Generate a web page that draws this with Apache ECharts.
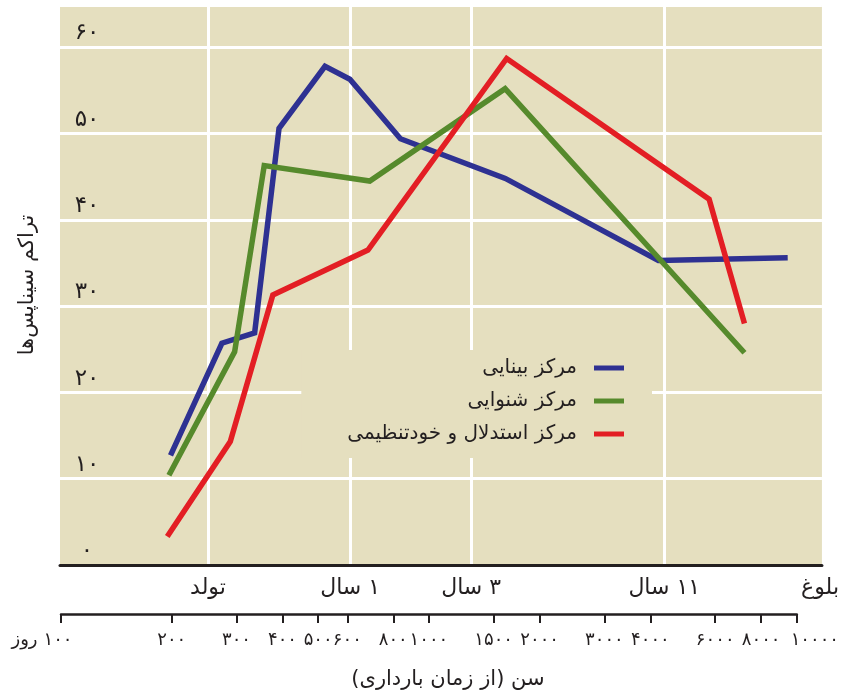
<!DOCTYPE html>
<html dir="rtl">
<head>
<meta charset="utf-8">
<script src="https://cdn.jsdelivr.net/npm/echarts@6/dist/echarts.min.js"></script>
<style>html,body{margin:0;padding:0;background:#fff}#c{width:842px;height:696px}</style>
</head>
<body>
<div id="c"></div>
<script>
// ---- data ----
const seriesNames = ['مرکز بینایی', 'مرکز شنوایی', 'مرکز استدلال و خودتنظیمی'];
const visualDays = [200, 276, 339, 395, 527, 616, 846, 1633, 4265, 9600];
const visualVals = [11.1, 24.1, 25.3, 49.0, 56.2, 54.7, 47.8, 43.2, 33.7, 34.0];
const auditoryDays = [198, 299, 360, 698, 1631, 7320];
const auditoryVals = [8.8, 23.1, 44.7, 42.9, 53.6, 23.0];
const prefrontalDays = [196, 291, 380, 690, 1647, 5865, 7320];
const prefrontalVals = [1.7, 12.7, 29.7, 34.9, 57.1, 40.8, 26.4];
const tickDays = [100, 200, 300, 400, 500, 600, 800, 1000, 1500, 2000, 3000, 4000, 6000, 8000];
const lastTickDays = [10000];
const yLabels = [0, 10, 20, 30, 40, 50, 60];
const milestoneDays = [253, 617, 1318, 4426, 11760];
const milestoneNames = ['تولد', '۱ سال', '۳ سال', '۱۱ سال', 'بلوغ'];
const yTitle = 'تراکم سیناپس‌ها';
const xTitle = 'سن (از زمان بارداری)';
const dayWord = 'روز';

// ---- helpers ----
const FONT = 'DejaVu Sans';
const INK = '#231f20';
const BG = '#e5dfbf';
const COLORS = ['#2e3192', '#568a2c', '#e31e24'];
const fa = n => String(n).replace(/\d/g, d => '۰۱۲۳۴۵۶۷۸۹'[d]);
const lg = d => Math.log10(d);
const pts = (days, vals) => days.map((d, i) => [lg(d), vals[i]]);

const chart = echarts.init(document.getElementById('c'), null, {renderer: 'canvas'});
const mkSeries = (name, days, vals, color) => ({
  name, type: 'line', xAxisIndex: 0, yAxisIndex: 0,
  data: pts(days, vals), symbol: 'none', showSymbol: false, silent: true,
  lineStyle: {width: 5.5, color, join: 'miter', cap: 'butt'},
  itemStyle: {color}
});
const tickLabelStyle = {fontSize: 18, color: INK, fontFamily: FONT};

chart.setOption({
  animation: false,
  grid: [
    {left: 60, right: 16, top: 5, bottom: 131, show: true, backgroundColor: BG, borderWidth: 0},
    {left: 61, right: 44, top: 600, height: 14, show: false}
  ],
  xAxis: [
    {
      type: 'value', gridIndex: 0, min: 2, max: lg(11900),
      axisLine: {show: true, onZero: false, lineStyle: {color: INK, width: 3}},
      axisTick: {show: false, customValues: milestoneDays.slice(0, 4).map(d => lg(d))},
      splitLine: {show: true, lineStyle: {color: '#fff', width: 3}},
      axisLabel: {
        customValues: milestoneDays.map(d => lg(d)),
        showMinLabel: true, showMaxLabel: true, hideOverlap: false,
        formatter: v => {
          let best = 0;
          milestoneDays.forEach((d, i) => { if (Math.abs(lg(d) - v) < Math.abs(lg(milestoneDays[best]) - v)) best = i; });
          return milestoneNames[best];
        },
        margin: 12, fontSize: 22, color: INK, fontFamily: FONT
      }
    },
    {
      type: 'value', gridIndex: 1, min: 2, max: 4, position: 'bottom',
      axisLine: {show: true, onZero: false, lineStyle: {color: INK, width: 2.5}},
      axisTick: {show: true, customValues: tickDays.map(d => lg(d)), length: 9, lineStyle: {color: INK, width: 2}},
      splitLine: {show: false},
      axisLabel: Object.assign({
        customValues: tickDays.map(d => lg(d)),
        showMinLabel: true, showMaxLabel: true, hideOverlap: false,
        formatter: v => {
          const d = Math.round(Math.pow(10, v));
          return d === 100 ? '{u|' + dayWord + '}' + fa(d) + '{p| }' : fa(d);
        },
        rich: {
          u: {fontSize: 18, fontFamily: FONT, color: INK, padding: [0, 6, 0, 0]},
          p: {width: 38, fontSize: 18}
        },
        margin: 17
      }, tickLabelStyle),
      name: xTitle, nameLocation: 'middle', nameGap: 55,
      nameTextStyle: {fontSize: 21, color: INK, fontFamily: FONT, padding: [0, 0, 0, 38]}
    },
    {
      type: 'value', gridIndex: 1, min: 2, max: 4, position: 'bottom', offset: 0,
      axisLine: {show: false},
      axisTick: {show: true, customValues: lastTickDays.map(d => lg(d)), length: 9, lineStyle: {color: INK, width: 2}},
      splitLine: {show: false},
      axisLabel: Object.assign({
        customValues: lastTickDays.map(d => lg(d)),
        showMinLabel: true, showMaxLabel: true,
        formatter: v => '{s| }' + fa(Math.round(Math.pow(10, v))),
        rich: {s: {width: 36, fontSize: 18}},
        margin: 17
      }, tickLabelStyle)
    }
  ],
  yAxis: [
    {
      type: 'value', gridIndex: 0, min: -1.6, max: 63.3, interval: 10,
      axisLine: {show: false}, axisTick: {show: false},
      splitLine: {show: true, lineStyle: {color: '#fff', width: 3}},
      axisLabel: {
        inside: true, customValues: yLabels, formatter: v => fa(v),
        align: 'center', margin: 27, fontSize: 23, color: INK, fontFamily: FONT
      },
      name: yTitle, nameLocation: 'middle', nameRotate: 90, nameGap: 22,
      nameTextStyle: {fontSize: 21, color: INK, fontFamily: FONT}
    },
    {type: 'value', gridIndex: 1, show: false}
  ],
  legend: {
    data: seriesNames, orient: 'vertical', right: 190, top: 350, align: 'right',
    icon: 'rect', itemWidth: 30, itemHeight: 5, itemGap: 13, selectedMode: false,
    padding: [8, 28, 14, 46], backgroundColor: BG,
    textStyle: {fontSize: 20, color: INK, fontFamily: FONT, padding: [0, 12, 0, 0]}
  },
  series: [
    mkSeries(seriesNames[0], visualDays, visualVals, COLORS[0]),
    mkSeries(seriesNames[1], auditoryDays, auditoryVals, COLORS[1]),
    mkSeries(seriesNames[2], prefrontalDays, prefrontalVals, COLORS[2])
  ]
});
</script>
</body>
</html>
